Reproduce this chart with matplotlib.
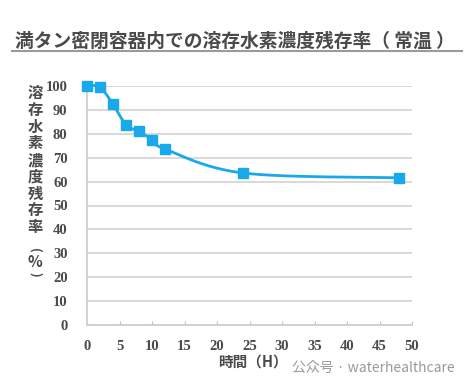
import matplotlib
matplotlib.use("Agg")
import matplotlib.pyplot as plt
import numpy as np

hours = [0, 2, 4, 6, 8, 10, 12, 24, 48]
residual = [100, 99.5, 92.3, 83.7, 81.0, 77.6, 73.6, 63.6, 61.6]
xticks = [0, 5, 10, 15, 20, 25, 30, 35, 40, 45, 50]
yticks = [0, 10, 20, 30, 40, 50, 60, 70, 80, 90, 100]
title = "満タン密閉容器内での溶存水素濃度残存率（ 常温 ）"
ylabel_chars = list("溶存水素濃度残存率")
xlabel = "時間（H）"

CJK = ["Noto Sans CJK JP", "DejaVu Sans"]
NUM = ["Liberation Serif", "DejaVu Serif"]
plt.rcParams["font.family"] = NUM
plt.rcParams["font.weight"] = "bold"
BLUE = "#19a8ea"
TXT = "#4a4a4a"

fig = plt.figure(figsize=(4.69, 3.86), dpi=100)
ax = fig.add_axes([87/469, 1-325/386, 325/469, 239/386])
ax.set_xlim(0, 50)
ax.set_ylim(0, 100)

# smooth curve (Excel-like Bezier through points) computed in display space
W, H = 325.0, 239.0
P = np.array([[x/50*W, y/100*H] for x, y in zip(hours, residual)])
curve = []
n = len(P)
for i in range(n-1):
    p0 = P[i-1] if i > 0 else P[i]
    p1 = P[i]
    p2 = P[i+1]
    p3 = P[i+2] if i+2 < n else P[i+1]
    c1 = p1 + (p2 - p0) / 6.0
    c2 = p2 - (p3 - p1) / 6.0
    t = np.linspace(0, 1, 40)[:, None]
    seg = (1-t)**3*p1 + 3*(1-t)**2*t*c1 + 3*(1-t)*t**2*c2 + t**3*p2
    curve.append(seg)
curve = np.vstack(curve)
ax.plot(curve[:, 0]/W*50, curve[:, 1]/H*100, color=BLUE, lw=2.0, clip_on=False, zorder=3)
ax.plot(hours, residual, linestyle="none", marker="s", markersize=7.5,
        color=BLUE, clip_on=False, zorder=4)

ax.set_yticks(yticks)
ax.set_xticks(xticks)
ax.set_yticklabels([str(v) for v in yticks], fontfamily=NUM, fontweight="bold")
ax.set_xticklabels([str(v) for v in xticks], fontfamily=NUM, fontweight="bold")
ax.yaxis.grid(True, color="#d6d6d6", lw=1.3)
ax.set_axisbelow(True)
for s in ["top", "right"]:
    ax.spines[s].set_visible(False)
for s in ["left", "bottom"]:
    ax.spines[s].set_color("#d0d0d0")
    ax.spines[s].set_linewidth(1.3)
ax.tick_params(axis="y", length=0, pad=14, labelsize=10.5, labelcolor=TXT)
ax.tick_params(axis="x", direction="in", length=3, color="#c0c0c0", pad=11,
               labelsize=10.5, labelcolor=TXT)

# title and underline
fig.text(235/469, 1-41/386, title, ha="center", va="center", family=CJK,
         fontsize=13.5, fontweight="bold", color=TXT)
fig.add_artist(plt.Line2D([12/469, 462/469], [1-51/386, 1-51/386],
                          color="#9a9a9a", lw=1.5))

# vertical y label
for k, ch in enumerate(ylabel_chars):
    y = 93 + k*16.75
    fig.text(35/469, 1-y/386, ch, ha="center", va="center", family=CJK,
             fontsize=11, fontweight="bold", color=TXT)
fig.text(35/469, 1-250/386, "(", ha="center", va="center", family=CJK,
         fontsize=9, fontweight="bold", color=TXT, rotation=-90)
fig.text(35/469, 1-262/386, "%", ha="center", va="center", family=CJK,
         fontsize=11, fontweight="bold", color=TXT)
fig.text(35/469, 1-274/386, ")", ha="center", va="center", family=CJK,
         fontsize=9, fontweight="bold", color=TXT, rotation=-90)

# x label
fig.text(253/469, 1-362/386, xlabel, ha="center", va="center", family=CJK,
         fontsize=10.5, fontweight="bold", color=TXT)

# watermark
fig.text(292/469, 1-368/386, "公众号 · waterhealthcare", ha="left", va="center",
         family=CJK, fontsize=10, fontweight="normal", color="#9a9a9a")

fig.savefig("out.png", dpi=100)
